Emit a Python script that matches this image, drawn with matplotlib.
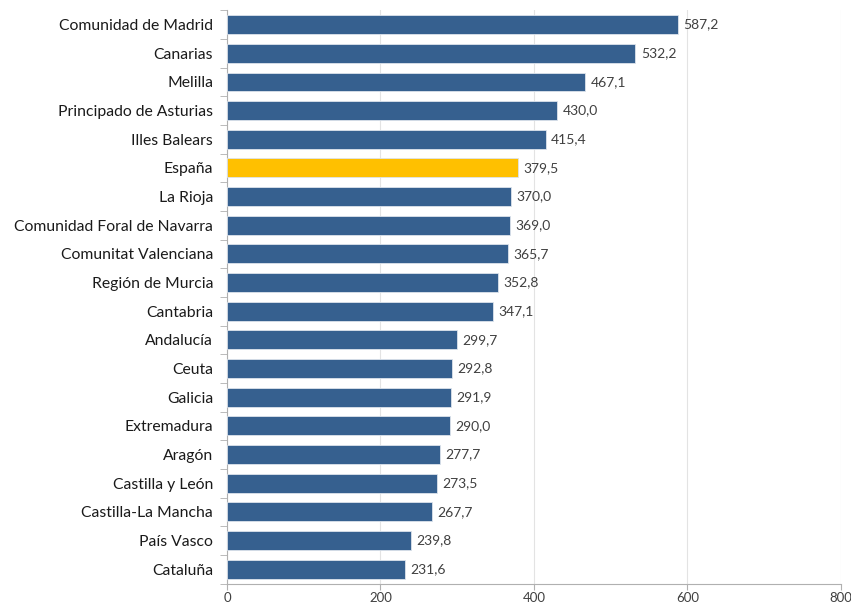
import matplotlib.pyplot as plt
import numpy as np

regions = [
    "Comunidad de Madrid", "Canarias", "Melilla", "Principado de Asturias",
    "Illes Balears", "España", "La Rioja", "Comunidad Foral de Navarra",
    "Comunitat Valenciana", "Región de Murcia", "Cantabria", "Andalucía",
    "Ceuta", "Galicia", "Extremadura", "Aragón", "Castilla y León",
    "Castilla-La Mancha", "País Vasco", "Cataluña",
]
values = [
    587.2, 532.2, 467.1, 430.0, 415.4, 379.5, 370.0, 369.0, 365.7, 352.8,
    347.1, 299.7, 292.8, 291.9, 290.0, 277.7, 273.5, 267.7, 239.8, 231.6,
]
highlight = "España"
x_ticks = [0, 200, 400, 600, 800]

BLUE = "#36608f"
YELLOW = "#ffc000"

plt.rcParams["font.family"] = ["Lato", "DejaVu Sans"]

fig = plt.figure(figsize=(8.51, 6.06), dpi=100)
ax = fig.add_axes([0.2667, 0.037, 0.7215, 0.946])

y = np.arange(len(regions))
colors = [YELLOW if r == highlight else BLUE for r in regions]
ax.barh(y, values, height=0.66, color=colors, edgecolor="#dce3ec", linewidth=0.6, zorder=3)

for yi, v in zip(y, values):
    ax.text(v + 7, yi, f"{v:.1f}".replace(".", ","), va="center", ha="left",
            fontsize=10, color="#404040")

ax.set_ylim(len(regions) - 0.5, -0.5)
ax.set_xlim(0, 800)
ax.set_yticks(y)
ax.set_yticklabels(regions, fontsize=11.3, color="#1a1a1a")
ax.tick_params(axis="y", length=0, pad=10)
ax.set_yticks(np.arange(len(regions) + 1) - 0.5, minor=True)
ax.tick_params(axis="y", which="minor", length=5, color="#b0b0b0")

ax.set_xticks(x_ticks)
ax.set_xticklabels([str(t) for t in x_ticks], fontsize=9.5, color="#404040")
ax.tick_params(axis="x", length=4, color="#b0b0b0", pad=2)

ax.grid(axis="x", color="#e3e3e3", linewidth=0.8, zorder=0)
for side in ["top", "right"]:
    ax.spines[side].set_visible(False)
for side in ["left", "bottom"]:
    ax.spines[side].set_color("#b0b0b0")

fig.savefig("out.png", dpi=100)
